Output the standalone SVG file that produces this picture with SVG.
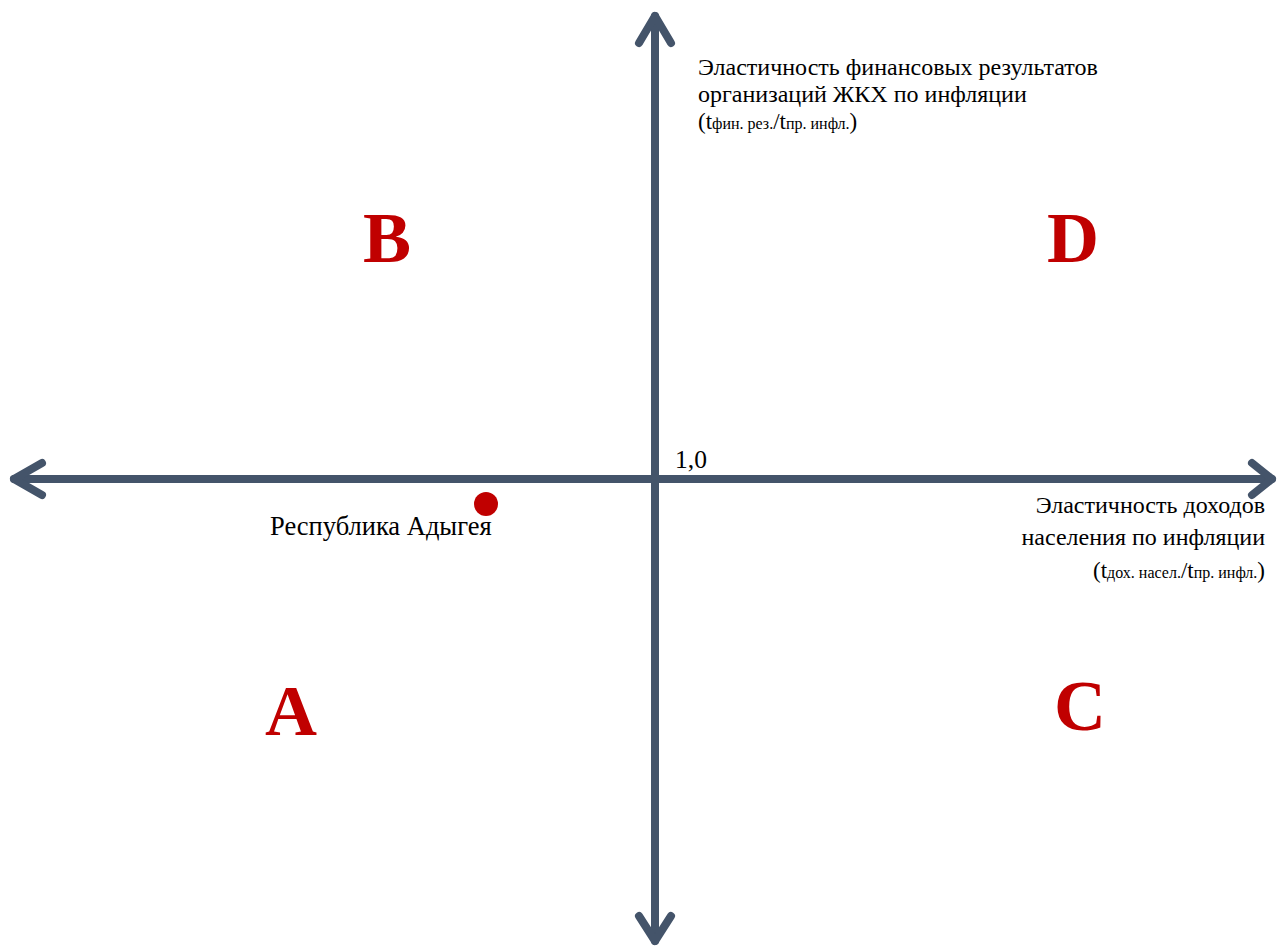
<svg xmlns="http://www.w3.org/2000/svg" width="1277" height="947" viewBox="0 0 1277 947">
<style>
.ax{stroke:#44546A;stroke-width:8;fill:none;stroke-linecap:round;stroke-linejoin:round}
.q{font-weight:bold;fill:#C00000;font-size:72px}
</style>
<rect width="1277" height="947" fill="#fff"/>
<g id="connectors">
<line class="ax" x1="14" y1="479" x2="1272" y2="479"/>
<line class="ax" x1="655" y1="16" x2="655" y2="941"/>
<polyline class="ax" points="42,463 14,479 42,495"/>
<polyline class="ax" points="1252,463 1272,479 1252,495"/>
<polyline class="ax" points="639,43 655,16 671,43"/>
<polyline class="ax" points="639,916 655,941 671,916"/>
</g>
<g id="y-label" font-family="Liberation Serif, Times New Roman, serif" fill="#000">
<text x="698" y="75" font-size="24">Эластичность финансовых результатов</text>
<text x="698" y="102" font-size="24">организаций ЖКХ по инфляции</text>
<text x="698" y="129" font-size="23">(t<tspan font-size="16">фин. рез.</tspan>/t<tspan font-size="16">пр. инфл.</tspan>)</text>
</g>
<g id="x-label" font-family="Liberation Serif, Times New Roman, serif" fill="#000">
<text x="1265" y="513" font-size="24" text-anchor="end">Эластичность доходов</text>
<text x="1265" y="545" font-size="24" text-anchor="end">населения по инфляции</text>
<text x="1265" y="578" font-size="23" text-anchor="end">(t<tspan font-size="16">дох. насел.</tspan>/t<tspan font-size="16">пр. инфл.</tspan>)</text>
</g>
<g id="origin" font-family="Liberation Serif, Times New Roman, serif"><text x="675" y="468" font-size="25.5">1,0</text></g>
<g id="point" font-family="Liberation Serif, Times New Roman, serif"><circle cx="486" cy="504" r="12" fill="#C00000"/>
<text x="270" y="535" font-size="26.5">Республика Адыгея</text></g>
<g id="qB" font-family="Liberation Serif, Times New Roman, serif"><text class="q" x="363" y="262">B</text></g>
<g id="qD" font-family="Liberation Serif, Times New Roman, serif"><text class="q" x="1047" y="262">D</text></g>
<g id="qA" font-family="Liberation Serif, Times New Roman, serif"><text class="q" x="265" y="735">A</text></g>
<g id="qC" font-family="Liberation Serif, Times New Roman, serif"><text class="q" x="1054" y="730">C</text></g>
</svg>
